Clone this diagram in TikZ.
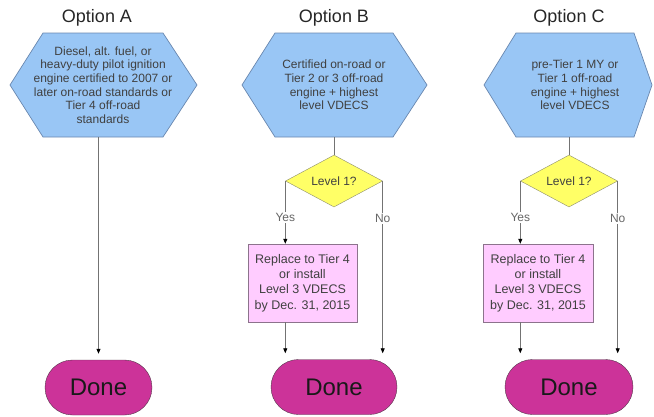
\documentclass[tikz,border=0pt]{standalone}
\usepackage{fontspec}
\setmainfont{Liberation Sans}
\usetikzlibrary{arrows.meta,shapes.geometric,shapes.misc,backgrounds}
\definecolor{hexblue}{RGB}{153,198,245}
\definecolor{hexedge}{RGB}{105,135,175}
\definecolor{diayellow}{RGB}{255,255,102}
\definecolor{diaedge}{RGB}{140,140,110}
\definecolor{boxpink}{RGB}{255,204,255}
\definecolor{boxedge}{RGB}{140,115,140}
\definecolor{donemag}{RGB}{204,51,153}
\definecolor{doneedge}{RGB}{85,55,75}

\begin{document}
\begin{tikzpicture}[x=1pt,y=-1pt,
  title/.style={font=\fontsize{18}{20}\selectfont,text=black!85},
  engine/.style={align=center,inner sep=0pt,minimum height=104pt,
                 font=\fontsize{12}{13.7}\selectfont,text=black!75},
  hexline/.style={draw=hexedge,fill=hexblue,line width=0.7pt},
  test/.style={diamond,draw=diaedge,fill=diayellow,aspect=1.87,minimum width=97pt,
               minimum height=52pt,inner sep=0pt,font=\fontsize{12}{14}\selectfont,text=black!75},
  fix/.style={draw=boxedge,fill=boxpink,minimum width=109pt,minimum height=78pt,inner sep=0pt,
              align=center,font=\fontsize{12.5}{15.3}\selectfont,text=black!75},
  done/.style={rounded rectangle,draw=doneedge,fill=donemag,minimum height=55pt,inner sep=0pt,
               font=\fontsize{24}{26}\selectfont,text=black!90},
  lbl/.style={fill=white,inner sep=1.5pt,font=\fontsize{12}{14}\selectfont,text=black!60},
  ln/.style={draw=black!55,line width=0.8pt},
  ar/.style={ln,-{Triangle[length=5pt,width=4pt,black]}}
]
\useasboundingbox (0,0) rectangle (654,416);

% Option A
\node[title] (tA) at (97,18) {Option A};
\node[engine] (hA) at (103,85) {Diesel, alt. fuel, or\\ heavy-duty pilot ignition\\ engine certified to 2007 or\\
  later on-road standards or\\ Tier 4 off-road\\ standards};
\node[done,minimum width=107pt] (nA) at (98.5,387.5) {Done};
\draw[ar,shorten >=6pt] (hA.south -| nA.north) -- (nA.north);

% Option B
\node[title] (tB) at (334,18) {Option B};
\node[engine] (hB) at (334,85) {Certified on-road or\\ Tier 2 or 3 off-road\\ engine + highest\\ level VDECS};
\node[test] (dB) at (334,181) {Level 1?};
\node[fix] (rB) at (302.5,283) {Replace to Tier 4\\ or install\\ Level 3 VDECS\\ by Dec. 31, 2015};
\node[done,minimum width=126pt] (nB) at (334,387) {Done};
\draw[ln] (hB) -- (dB);
\draw[ar] (dB.west) -- node[lbl,pos=0.58] {Yes} (dB.west |- rB.north);
\draw[ar,shorten >=6pt] (dB.west |- rB.south) -- (dB.west |- nB.north);
\draw[ar,shorten >=6pt] (dB.east) -- node[lbl,pos=0.21] {No} (dB.east |- nB.north);

% Option C
\node[title] (tC) at (569,18) {Option C};
\node[engine] (hC) at (575,85) {pre-Tier 1 MY or\\ Tier 1 off-road\\ engine + highest\\ level VDECS};
\node[test] (dC) at (569,181) {Level 1?};
\node[fix,minimum width=110pt] (rC) at (538,283) {Replace to Tier 4\\ or install\\ Level 3 VDECS\\ by Dec. 31, 2015};
\node[done,minimum width=128pt] (nC) at (569,387) {Done};
\draw[ln] (hC.south -| dC.north) -- (dC);
\draw[ar] (dC.west) -- node[lbl,pos=0.58] {Yes} (dC.west |- rC.north);
\draw[ar,shorten >=6pt] (dC.west |- rC.south) -- (dC.west |- nC.north);
\draw[ar,shorten >=6pt] (dC.east) -- node[lbl,pos=0.21] {No} (dC.east |- nC.north);

\begin{scope}[on background layer]
  \foreach \h/\w/\l/\r in {hA/60/33/34,hB/59/33/34,hC/59/32/18}{
    \draw[hexline] ([shift={(-\w,-52)}]\h.center) -- ([shift={(\w,-52)}]\h.center)
      -- ([shift={(\w+\r,0)}]\h.center) -- ([shift={(\w,52)}]\h.center)
      -- ([shift={(-\w,52)}]\h.center) -- ([shift={(-\w-\l,0)}]\h.center) -- cycle;}
\end{scope}
\end{tikzpicture}
\end{document}
